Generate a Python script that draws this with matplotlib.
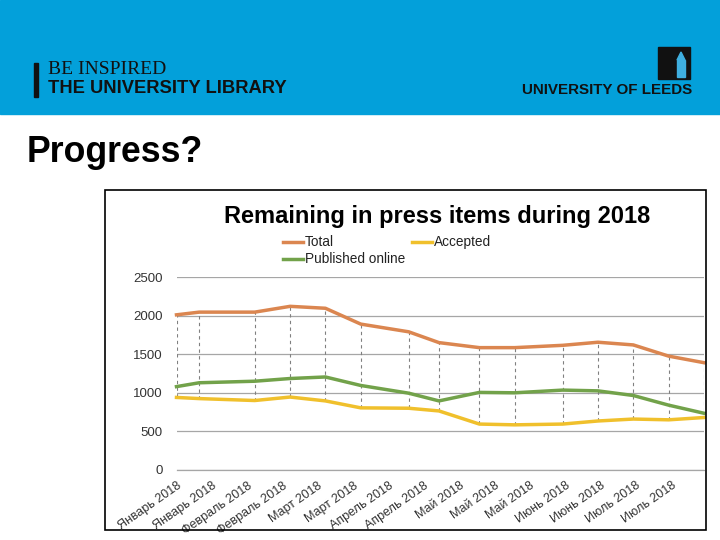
import numpy as np
import matplotlib
matplotlib.use('Agg')
import matplotlib.pyplot as plt
from matplotlib.patches import Rectangle, Polygon
from matplotlib.lines import Line2D

plt.rcParams['font.family'] = ['Liberation Sans', 'DejaVu Sans']

# data
dates = np.array(['2018-01-10', '2018-01-19', '2018-02-10', '2018-02-24', '2018-03-10',
                  '2018-03-24', '2018-04-12', '2018-04-24', '2018-05-10', '2018-05-24',
                  '2018-06-12', '2018-06-26', '2018-07-10', '2018-07-24', '2018-08-07'],
                 dtype='datetime64[D]')
total = [2010, 2045, 2045, 2120, 2095, 1890, 1790, 1650, 1585, 1585, 1615, 1655, 1620, 1475, 1390]
accepted = [940, 925, 900, 945, 895, 805, 800, 765, 595, 585, 595, 635, 660, 650, 680]
published = [1080, 1130, 1150, 1185, 1205, 1095, 995, 895, 1005, 1000, 1035, 1025, 965, 840, 735]

tick_dates = np.arange(np.datetime64('2018-01-10'), np.datetime64('2018-08-01'),
                       np.timedelta64(14, 'D'))
month_names = {1: 'Январь', 2: 'Февраль', 3: 'Март', 4: 'Апрель',
               5: 'Май', 6: 'Июнь', 7: 'Июль', 8: 'Август'}
tick_labels = [month_names[d.astype(object).month] + ' 2018' for d in tick_dates]

C_TOTAL = '#DB8650'
C_ACC = '#F0C02C'
C_PUB = '#72A24A'
BLUE = '#03A0DA'

W, H = 720, 540


def fx(x):
    return x / W


def fy(y):
    return 1 - y / H


fig = plt.figure(figsize=(7.2, 5.4), dpi=100)

# header band with logos
fig.add_artist(Rectangle((0, fy(114)), 1, 114 / H, transform=fig.transFigure,
                         color=BLUE, zorder=0))
fig.add_artist(Rectangle((fx(34), fy(97)), 4 / W, 34 / H, transform=fig.transFigure,
                         color='#111111'))
fig.text(fx(48), fy(69), 'BE INSPIRED', family=['Liberation Serif', 'DejaVu Serif'],
         fontsize=14, color='#111111', va='center')
fig.text(fx(48), fy(88.5), 'THE UNIVERSITY LIBRARY', fontsize=13.2, fontweight='bold',
         color='#111111', va='center')
fig.text(fx(692), fy(90), 'UNIVERSITY OF LEEDS', fontsize=10.9, fontweight='bold',
         color='#111111', va='center', ha='right')
fig.add_artist(Rectangle((fx(658), fy(79)), 32 / W, 32 / H, transform=fig.transFigure,
                         color='#111111'))
fig.add_artist(Rectangle((fx(677), fy(77)), 8 / W, 17 / H, transform=fig.transFigure,
                         color='#3FAFE0'))
fig.add_artist(Polygon([(fx(677), fy(60)), (fx(681), fy(52)), (fx(685), fy(60))],
                       transform=fig.transFigure, color='#3FAFE0'))

fig.text(fx(27), fy(152), 'Progress?', fontsize=25.7, fontweight='bold', va='center')

# chart frame
fig.add_artist(Rectangle((fx(105), fy(530)), 601 / W, 340 / H, transform=fig.transFigure,
                         fill=False, edgecolor='black', lw=1.2))
fig.text(fx(437), fy(216), 'Remaining in press items during 2018', fontsize=17,
         fontweight='bold', ha='center', va='center')

# legend
for (x0, y0, col, lab) in [(283, 242, C_TOTAL, 'Total'), (412, 242, C_ACC, 'Accepted'),
                           (283, 259, C_PUB, 'Published online')]:
    fig.add_artist(Line2D([fx(x0), fx(x0 + 20)], [fy(y0), fy(y0)], transform=fig.transFigure,
                          color=col, lw=2.5))
    fig.text(fx(x0 + 22), fy(y0), lab, fontsize=9.8, va='center', color='#222222')

ax = fig.add_axes([fx(176.5), fy(470), fx(704) - fx(176.5), (470 - 277) / H])
ax.set_ylim(0, 2500)
ax.set_xlim(dates[0], dates[-1])
ax.set_yticks(range(0, 2501, 500))
ax.grid(axis='y', color='#A6A6A6', lw=0.9)
ax.axhline(0, color='#A6A6A6', lw=0.9, clip_on=False, zorder=0.5)
ax.set_axisbelow(True)
for s in ax.spines.values():
    s.set_visible(False)

lo = np.minimum(np.minimum(total, accepted), published)
hi = np.maximum(np.maximum(total, accepted), published)
ax.vlines(dates, lo, hi, colors='#808080', linestyles=(0, (3, 3)), lw=0.8, zorder=1)

ax.plot(dates, total, color=C_TOTAL, lw=2.5, clip_on=False, zorder=3)
ax.plot(dates, accepted, color=C_ACC, lw=2.5, clip_on=False, zorder=3)
ax.plot(dates, published, color=C_PUB, lw=2.5, clip_on=False, zorder=3)

ax.set_xticks(tick_dates)
ax.set_xticklabels(tick_labels, rotation=35, ha='right', va='top',
                   rotation_mode='anchor', fontsize=9, color='#333333')
ax.tick_params(axis='x', length=0, pad=7)
ax.tick_params(axis='y', length=0, pad=10, labelsize=9.5, labelcolor='#333333')

fig.savefig('out.png', dpi=100)
